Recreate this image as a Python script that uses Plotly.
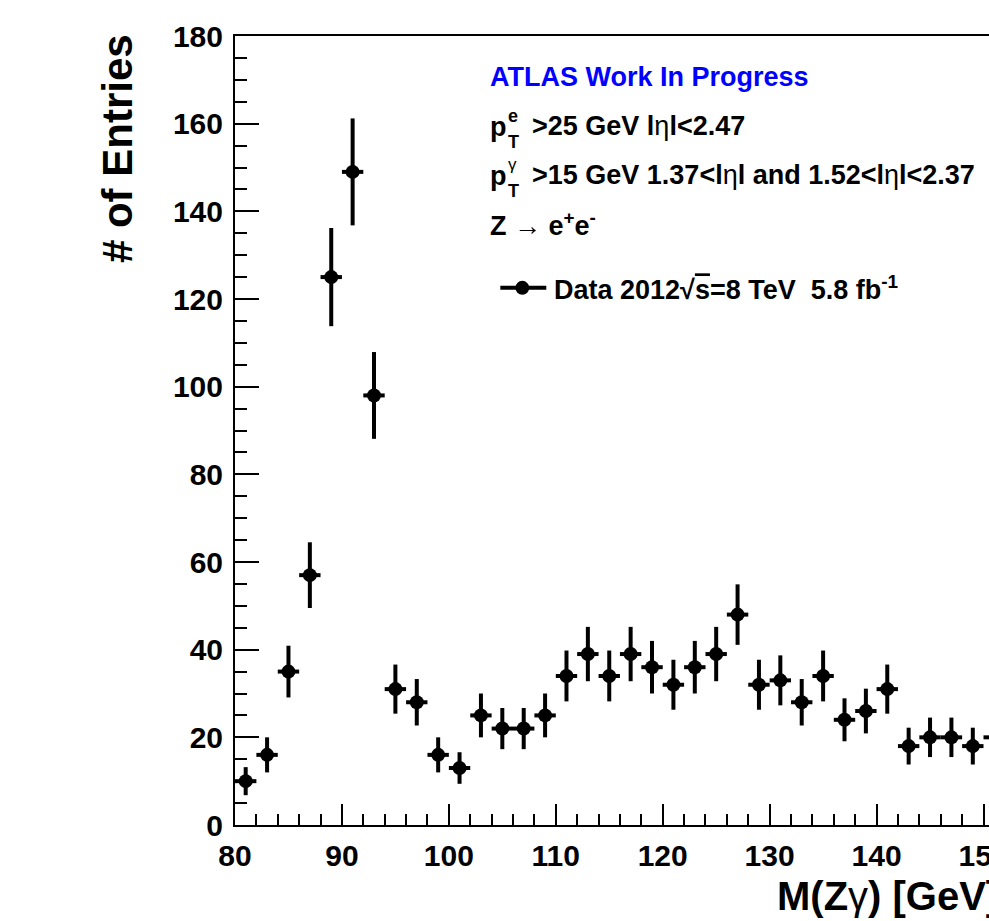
import plotly.graph_objects as go

# ---- data ----
bin_centers = [81, 83, 85, 87, 89, 91, 93, 95, 97, 99, 101, 103, 105, 107, 109, 111,
               113, 115, 117, 119, 121, 123, 125, 127, 129, 131, 133, 135, 137, 139,
               141, 143, 145, 147, 149, 151]
entries = [10, 16, 35, 57, 125, 149, 98, 31, 28, 16, 13, 25, 22, 22, 25, 34,
           39, 34, 39, 36, 32, 36, 39, 48, 32, 33, 28, 34, 24, 26,
           31, 18, 20, 20, 18, 20]
entry_errors = [3.2, 4.0, 5.9, 7.5, 11.2, 12.2, 9.9, 5.6, 5.3, 4.0, 3.6, 5.0, 4.7, 4.7, 5.0, 5.8,
                6.2, 5.8, 6.2, 6.0, 5.7, 6.0, 6.2, 6.9, 5.7, 5.7, 5.3, 5.8, 4.9, 5.1,
                5.6, 4.2, 4.5, 4.5, 4.2, 4.5]
bin_half_width = 1.0

x_ticks = [80, 90, 100, 110, 120, 130, 140, 150]
y_ticks = [0, 20, 40, 60, 80, 100, 120, 140, 160, 180]

# ---- geometry ----
W, H = 989, 921
L, T, B, R = 234.5, 36, 95.5, 0
plot_w = W - L - R
plot_h = H - T - B
FONT = "Liberation Sans, Arial, Helvetica, sans-serif"


def px(xp):
    return (xp - L) / plot_w


def py(yp):
    return (H - B - yp) / plot_h


fig = go.Figure()
fig.add_trace(go.Scatter(
    x=bin_centers, y=entries, mode="markers",
    marker=dict(symbol="circle", size=14, color="black"),
    error_y=dict(type="data", array=entry_errors, visible=True, color="black",
                 thickness=4, width=0),
    error_x=dict(type="constant", value=bin_half_width, visible=True, color="black",
                 thickness=4, width=0),
    cliponaxis=False, showlegend=False,
))

x_upper = 80 + plot_w / 10.7

fig.update_layout(
    width=W, height=H,
    margin=dict(l=L, r=R, t=T, b=B, pad=0, autoexpand=False),
    paper_bgcolor="white", plot_bgcolor="white",
    font=dict(family=FONT, color="black", size=27, weight="bold"),
    xaxis=dict(
        range=[80, x_upper], tickvals=x_ticks, ticktext=[str(v) for v in x_ticks],
        ticks="inside", ticklen=21, tickwidth=1.5, tickcolor="black",
        minor=dict(dtick=2, tick0=80, ticks="inside", ticklen=11, tickwidth=1.5,
                   tickcolor="black"),
        showline=True, linecolor="black", linewidth=2, mirror=True,
        showgrid=False, zeroline=False, automargin=False,
        tickfont=dict(family=FONT, size=30, color="black", weight="bold"),
        ticklabelstandoff=3, ticklabeloverflow="allow",
    ),
    yaxis=dict(
        range=[0, 180], tickvals=y_ticks, ticktext=[str(v) for v in y_ticks],
        ticks="inside", ticklen=24, tickwidth=1.5, tickcolor="black",
        minor=dict(dtick=5, tick0=0, ticks="inside", ticklen=12, tickwidth=1.5,
                   tickcolor="black"),
        showline=True, linecolor="black", linewidth=2, mirror=False,
        showgrid=False, zeroline=False, automargin=False,
        tickfont=dict(family=FONT, size=30, color="black", weight="bold"),
        ticklabelstandoff=4,
    ),
)

ann = []


def text(xp, yp, s, size=27, color="black", xanchor="left", yanchor="middle", angle=0):
    ann.append(dict(x=px(xp), y=py(yp), xref="paper", yref="paper", text=s,
                    showarrow=False, xanchor=xanchor, yanchor=yanchor, textangle=angle,
                    font=dict(family=FONT, size=size, color=color, weight="bold"),
                    borderpad=0))


eta = "l<span style='font-weight:normal'>η</span>l"

text(489, 77, "ATLAS Work In Progress", color="#0000ff")
# line 2
text(489, 127, "p")
text(507, 116, "e", size=18)
text(507, 142, "T", size=18)
text(531, 126, "&gt;25 GeV " + eta + "&lt;2.47")
# line 3
text(489, 176, "p")
text(507, 165, "<span style='font-weight:normal'>γ</span>", size=17)
text(507, 191, "T", size=18)
text(531, 175, "&gt;15 GeV 1.37&lt;" + eta + " and 1.52&lt;" + eta + "&lt;2.37")
# line 4
text(489, 224, "Z <span style='font-weight:normal'>→</span> e<sup>+</sup>e<sup>-</sup>")
# legend text
text(553, 288, "Data 2012√<span style='text-decoration:overline'>s</span>=8 TeV  5.8 fb<sup>-1</sup>")

# axis titles
text(117, 33, "# of Entries", size=42, xanchor="center", yanchor="top", angle=-90)
text(776, 897, "M(Z<span style='font-weight:normal'>γ</span>) [GeV]", size=40)

fig.update_layout(annotations=ann)

# legend marker
fig.add_shape(type="line", xref="paper", yref="paper",
              x0=px(500), x1=px(546), y0=py(288), y1=py(288),
              line=dict(color="black", width=4))
fig.add_shape(type="circle", xref="paper", yref="paper",
              x0=px(515), x1=px(529), y0=py(295), y1=py(281),
              fillcolor="black", line=dict(color="black", width=0))

fig.write_html("out.html")
